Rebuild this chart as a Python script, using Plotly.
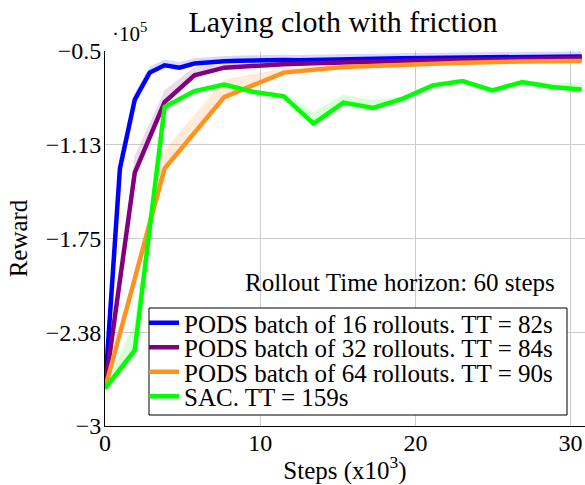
import plotly.graph_objects as go

# ---------------- data (reward in units of 1e5, steps in 1e3) ----------------
blue_x = [0.0, 0.96, 1.92, 2.88, 3.84, 4.8, 5.76, 6.72, 7.68, 8.64, 9.6, 10.56, 11.52,
          12.48, 13.44, 14.4, 15.36, 16.32, 17.28, 18.24, 19.2, 20.16, 21.12, 22.08,
          23.04, 24.0, 24.96, 25.92, 26.88, 27.84, 28.8, 29.76, 30.72]
blue_y = [-2.75, -1.284, -0.824, -0.644, -0.595, -0.611, -0.584, -0.575, -0.568, -0.565,
          -0.562, -0.563, -0.560, -0.561, -0.558, -0.557, -0.555, -0.553, -0.553, -0.550,
          -0.548, -0.547, -0.546, -0.545, -0.547, -0.544, -0.542, -0.540, -0.541, -0.539,
          -0.538, -0.537, -0.536]
blue_hi = [-2.75, -1.20, -0.78, -0.605, -0.557, -0.573, -0.548, -0.540, -0.533, -0.530,
           -0.527, -0.528, -0.525, -0.526, -0.523, -0.522, -0.520, -0.518, -0.518, -0.515,
           -0.513, -0.512, -0.511, -0.510, -0.512, -0.509, -0.507, -0.505, -0.506, -0.504,
           -0.503, -0.502, -0.501]

purple_x = [0.0, 1.92, 3.84, 5.76, 7.68, 9.6, 11.52, 13.44, 15.36, 17.28, 19.2, 21.12,
            23.04, 24.96, 26.88, 28.8, 30.72]
purple_y = [-2.75, -1.31, -0.84, -0.662, -0.611, -0.597, -0.588, -0.582, -0.575, -0.570,
            -0.566, -0.563, -0.558, -0.555, -0.552, -0.550, -0.548]
purple_hi = [-2.75, -1.197, -0.762, -0.607, -0.585, -0.575, -0.568, -0.562, -0.555,
             -0.550, -0.546, -0.543, -0.538, -0.535, -0.532, -0.530, -0.528]

orange_x = [0.0, 3.84, 7.68, 11.52, 15.36, 19.2, 23.04, 26.88, 30.72]
orange_y = [-2.75, -1.284, -0.807, -0.644, -0.607, -0.589, -0.578, -0.570, -0.566]
orange_hi = [-2.75, -1.163, -0.69, -0.617, -0.590, -0.574, -0.563, -0.555, -0.551]

green_x = [0.0, 1.92, 3.84, 5.76, 7.68, 9.6, 11.52, 13.44, 15.36, 17.28, 19.2, 21.12,
           23.04, 24.96, 26.88, 28.8, 30.72]
green_y = [-2.75, -2.495, -0.873, -0.767, -0.724, -0.773, -0.802, -0.984, -0.844, -0.880,
           -0.817, -0.729, -0.700, -0.762, -0.707, -0.740, -0.757]
green_hi = [-2.75, -2.30, -0.86, -0.755, -0.712, -0.760, -0.780, -0.907, -0.791, -0.829,
            -0.800, -0.715, -0.690, -0.745, -0.695, -0.713, -0.713]

series_names = ["PODS batch of 16 rollouts. TT = 82s",
                "PODS batch of 32 rollouts. TT = 84s",
                "PODS batch of 64 rollouts. TT = 90s",
                "SAC. TT = 159s"]

y_tickvals = [-0.5, -1.125, -1.75, -2.375, -3.0]
y_ticktext = ["\u22120.5", "\u22121.13", "\u22121.75", "\u22122.38", "\u22123"]
x_tickvals = [0, 10, 20, 30]

# ---------------- styling ----------------
FONT = "Liberation Serif"
colors = ["#0000ff", "#800080", "#ff9220", "#00ff00"]
fills = ["rgba(0,0,255,0.15)", "rgba(128,0,128,0.15)", "rgba(255,146,32,0.18)",
         "rgba(0,255,0,0.15)"]
data = [(blue_x, blue_y, blue_hi), (purple_x, purple_y, purple_hi),
        (orange_x, orange_y, orange_hi), (green_x, green_y, green_hi)]
legend_ids = ["legend", "legend2", "legend3", "legend4"]

fig = go.Figure()
for (xs, ys, hi), fc in zip(data, fills):
    fig.add_trace(go.Scatter(x=xs, y=ys, mode="lines", line=dict(width=0),
                             showlegend=False, hoverinfo="skip"))
    fig.add_trace(go.Scatter(x=xs, y=hi, mode="lines", line=dict(width=0),
                             fill="tonexty", fillcolor=fc, showlegend=False,
                             hoverinfo="skip"))
for (xs, ys, hi), c, name, lg in zip(data, colors, series_names, legend_ids):
    fig.add_trace(go.Scatter(x=xs, y=ys, mode="lines", name=name,
                             line=dict(color=c, width=4.5), legend=lg))

W, H = 585, 485
ML, MR, MT, MB = 105, 0, 51, 59
pw, ph = W - ML - MR, H - MT - MB


def px_x(p):
    return (p - ML) / pw


def px_y(p):
    return (H - MB - p) / ph


row_px = [323, 347.5, 372, 396.5]
legend_layout = {}
for lg, r in zip(legend_ids, row_px):
    legend_layout[lg] = dict(x=px_x(144), y=px_y(r), xanchor="left", yanchor="middle",
                             bgcolor="rgba(0,0,0,0)", borderwidth=0,
                             font=dict(family=FONT, size=25, color="black"))

fig.update_layout(
    width=W, height=H,
    margin=dict(l=ML, r=MR, t=MT, b=MB, autoexpand=False),
    paper_bgcolor="white", plot_bgcolor="white",
    font=dict(family=FONT, color="black"),
    title=dict(text="Laying cloth with friction", x=343 / W,
               xanchor="center", y=1 - 21 / H, yanchor="middle", yref="container",
               automargin=False,
               font=dict(family=FONT, size=30, color="black")),
    xaxis=dict(range=[0, 30.93], tickvals=x_tickvals, showgrid=True, automargin=False,
               gridcolor="#cccccc", gridwidth=1, showline=True, linecolor="black",
               linewidth=1, zeroline=False, ticks="", ticklen=0, ticklabelstandoff=-5,
               tickfont=dict(family=FONT, size=24, color="black"),
               title=dict(text="Steps (x10<sup>3</sup>)", standoff=2,
                          font=dict(family=FONT, size=25, color="black"))),
    yaxis=dict(range=[-3, -0.5], tickvals=y_tickvals, ticktext=y_ticktext,
               showgrid=True, automargin=False, gridcolor="#cccccc", gridwidth=1,
               showline=True, linecolor="black", linewidth=1, zeroline=False,
               ticks="", ticklen=0, ticklabelstandoff=-2,
               tickfont=dict(family=FONT, size=24, color="black"),
               title=dict(text="Reward", standoff=10,
                          font=dict(family=FONT, size=25, color="black"))),
    shapes=[dict(type="rect", xref="paper", yref="paper",
                 x0=px_x(149), x1=px_x(567), y0=px_y(415), y1=px_y(308),
                 line=dict(color="black", width=1), fillcolor="white", layer="above")],
    annotations=[
        dict(text="Rollout Time horizon: 60 steps", xref="paper", yref="paper",
             x=px_x(557), y=px_y(282), xanchor="right", yanchor="middle",
             showarrow=False, font=dict(family=FONT, size=25, color="black")),
        dict(text="\u00b710<sup>5</sup>", xref="paper", yref="paper",
             x=px_x(110), y=px_y(33), xanchor="left", yanchor="middle",
             showarrow=False, font=dict(family=FONT, size=21, color="black")),
    ],
    **legend_layout,
)

fig.write_html("out.html",
               config={"displayModeBar": False},
               post_script="document.body.style.margin='0';"
                           "document.body.style.overflow='hidden';")
